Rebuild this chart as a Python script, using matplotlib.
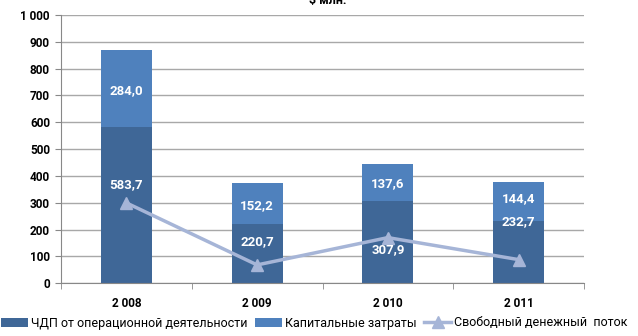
import numpy as np
import matplotlib
matplotlib.use("Agg")
import matplotlib.pyplot as plt
from matplotlib.ticker import FuncFormatter

plt.rcParams['font.family'] = ['Roboto', 'DejaVu Sans']

# data
years = ["2 008", "2 009", "2 010", "2 011"]
op_cash = [583.7, 220.7, 307.9, 232.7]
capex = [284.0, 152.2, 137.6, 144.4]
free_cf = [299.7, 68.5, 170.3, 88.3]

# label positions (moved by hand in the original)
op_label_y = [366, 155, 124, 230]
capex_label_y = [718, 289, 370, 314]

dark = "#3F6797"
light = "#4F81BD"
line_c = "#A6B5D7"

fig = plt.figure(figsize=(6.38, 3.36), dpi=100)
ax = fig.add_axes([61 / 638, 1 - 283.3 / 336, (584 - 61) / 638, (283.3 - 15) / 336])

x = np.arange(len(years))
w = 0.39
b1 = ax.bar(x, op_cash, w, color=dark, label="ЧДП от операционной деятельности", zorder=2)
b2 = ax.bar(x, capex, w, bottom=op_cash, color=light, label="Капитальные затраты", zorder=2)
ln, = ax.plot(x, free_cf, color=line_c, lw=2.5, marker="^", ms=9, mec=line_c, mfc=line_c,
              label="Свободный денежный  поток", zorder=3)

for i in range(len(years)):
    ax.text(x[i], op_label_y[i], f"{op_cash[i]:.1f}".replace(".", ","), color="white",
            ha="center", va="center", fontsize=9.5, fontweight="bold", zorder=4)
    ax.text(x[i], capex_label_y[i], f"{capex[i]:.1f}".replace(".", ","), color="white",
            ha="center", va="center", fontsize=9.5, fontweight="bold", zorder=4)

ax.set_xlim(-0.5, len(years) - 0.5)
ax.set_ylim(0, 1000)
ax.set_yticks(np.arange(0, 1001, 100))
ax.yaxis.set_major_formatter(FuncFormatter(lambda v, p: f"{int(v):,}".replace(",", " ")))
ax.set_xticks(x)
ax.set_xticklabels(years)
ax.set_xticks(np.arange(-0.5, len(years)), minor=True)
ax.tick_params(axis="x", which="major", length=0, pad=10)
ax.tick_params(axis="x", which="minor", length=4, color="#888888")
ax.tick_params(axis="y", length=4, color="#888888", pad=4)
for lab in ax.get_xticklabels() + ax.get_yticklabels():
    lab.set_fontweight("bold")
    lab.set_fontsize(8.5)

ax.grid(axis="y", color="#A8A8A8", lw=1, zorder=0)
for s in ["top", "right"]:
    ax.spines[s].set_visible(False)
ax.spines["left"].set_color("#888888")
ax.spines["bottom"].set_color("#888888")

fig.text(328 / 638, 1 - 4 / 336, "$ млн.", ha="center", va="baseline",
         fontsize=9, fontweight="bold")

fig.legend(handles=[b1, b2, ln], loc="center", bbox_to_anchor=(314 / 638, 1 - 323 / 336),
           ncol=3, frameon=False, fontsize=9, handlelength=2.2, handleheight=0.7,
           handletextpad=0.2, columnspacing=0.6, borderpad=0)

fig.savefig("out.png", dpi=100)
